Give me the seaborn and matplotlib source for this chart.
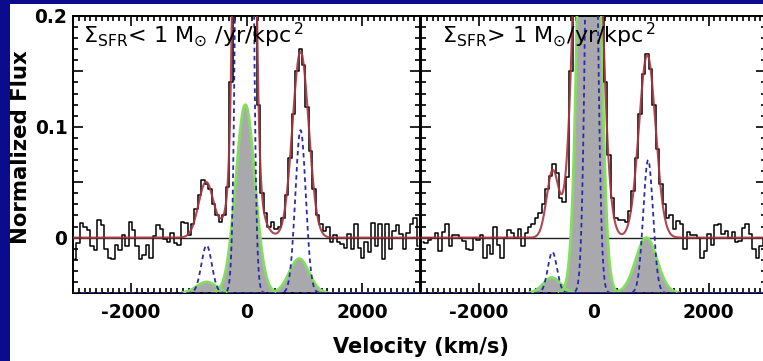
import numpy as np
import pandas as pd
import matplotlib
matplotlib.use("Agg")
import matplotlib.pyplot as plt
import seaborn as sns
from matplotlib.patches import Rectangle
from matplotlib.ticker import MultipleLocator, FixedLocator, FuncFormatter

# observed spectra, 60 km/s bins starting at -3000 km/s
vel_start, vel_step = -3000, 60

flux_low = [
    -0.019, -0.005, 0.013, 0.010, 0.007, -0.008, -0.011, 0.016, 0.011, -0.010,
    -0.018, -0.019, -0.007, -0.011, 0.002, -0.008, 0.014, 0.007, -0.008, -0.019,
    -0.016, -0.007, -0.018, 0.001, 0.011, 0.008, -0.001, -0.004, 0.004, -0.005,
    -0.007, 0.014, 0.013, 0.002, 0.012, 0.026, 0.038, 0.052, 0.048, 0.044,
    0.030, 0.020, 0.014, 0.020, 0.046, 0.140, 0.450, 1.000, 1.800, 2.200,
    1.900, 1.200, 0.400, 0.120, 0.040, 0.022, 0.010, 0.014, 0.008, 0.010,
    0.018, 0.038, 0.072, 0.112, 0.150, 0.170, 0.156, 0.118, 0.078, 0.044,
    0.020, 0.012, 0.006, 0.010, -0.004, 0.002, -0.004, -0.006, -0.009, 0.003,
    -0.010, 0.012, -0.009, -0.018, -0.004, -0.013, 0.013, -0.008, 0.012, -0.019,
    0.012, -0.010, 0.006, 0.011, 0.003, -0.010, 0.004, 0.012, 0.018, -0.008,
]

flux_high = [
    -0.004, -0.005, -0.002, 0.000, 0.004, -0.012, 0.005, 0.012, -0.008, 0.002,
    0.002, 0.000, -0.003, -0.010, -0.011, 0.000, -0.002, 0.002, -0.018, -0.007,
    -0.015, 0.010, -0.007, -0.018, 0.000, 0.007, 0.004, 0.000, 0.008, -0.008,
    0.004, 0.010, 0.012, 0.018, 0.022, 0.030, 0.044, 0.056, 0.066, 0.058,
    0.036, 0.032, 0.055, 0.150, 0.260, 0.400, 0.540, 0.640, 0.690, 0.640,
    0.520, 0.380, 0.250, 0.140, 0.075, 0.036, 0.018, 0.016, 0.016, 0.014,
    0.024, 0.042, 0.072, 0.112, 0.148, 0.166, 0.152, 0.120, 0.080, 0.048,
    0.030, 0.018, 0.020, 0.008, 0.015, 0.012, -0.010, 0.005, 0.002, 0.002,
    0.000, -0.018, -0.012, 0.003, -0.007, 0.011, 0.012, 0.003, 0.006, 0.000,
    0.005, -0.004, -0.003, 0.009, 0.012, 0.003, -0.010, -0.018, -0.008, 0.000,
]

# gaussian fits: centre (km/s), amplitude, sigma (km/s)
fit_low_centre = [-700, -35, -35, 935]
fit_low_amp = [0.050, 2.2, 0.08, 0.168]
fit_low_sigma = [130, 95, 200, 140]

narrow_low_centre = [-690, -35, 935]
narrow_low_amp = [0.043, 2.2, 0.147]
narrow_low_sigma = [90, 80, 90]

broad_low_centre = [-690, -20, 910]
broad_low_amp = [0.010, 0.17, 0.031]
broad_low_sigma = [170, 165, 170]

fit_high_centre = [-710, -100, 935]
fit_high_amp = [0.060, 0.68, 0.165]
fit_high_sigma = [105, 170, 145]

narrow_high_centre = [-715, -35, 950]
narrow_high_amp = [0.037, 0.67, 0.12]
narrow_high_sigma = [80, 80, 85]

broad_high_centre = [-725, -75, 920]
broad_high_amp = [0.014, 0.87, 0.05]
broad_high_sigma = [150, 135, 185]

comp_base = -0.05

labels = [r"$\Sigma_{\rm SFR}$< 1 M$_{\odot}$ /yr/kpc$^{\,2}$",
          r"$\Sigma_{\rm SFR}$> 1 M$_{\odot}$/yr/kpc$^{\,2}$"]

sns.set_style("ticks")
plt.rcParams["font.family"] = ["DejaVu Sans"]
plt.rcParams["axes.linewidth"] = 1.4
for key in ["text.color", "axes.labelcolor", "xtick.color", "ytick.color",
            "axes.edgecolor"]:
    plt.rcParams[key] = "black"

BLUE_BG = "#0b0b8e"
RED = "#a8343f"
DASH = "#2b2ba6"
GREEN = "#86dc62"
GRAY = "#a9a9ad"


def gauss_sum(v, centres, amps, sigmas):
    out = np.zeros_like(v)
    for c, a, s in zip(centres, amps, sigmas):
        out += a * np.exp(-0.5 * ((v - c) / s) ** 2)
    return out


def draw_panel(ax, flux, fit, narrow, broad, label, label_x, show_ylabels):
    v = np.linspace(-3000, 3000, 1201)
    bins = vel_start + vel_step * (np.arange(len(flux)) + 0.5)
    df = pd.DataFrame({"vel": bins, "flux": flux})

    ax.axhline(0, color="#222222", lw=1.0, zorder=1)

    for c, a, s in zip(*broad):
        comp = gauss_sum(v, [c], [a], [s])
        g = comp_base + comp
        ax.fill_between(v, comp_base, g, color=GRAY, lw=0, zorder=2)
        # outline only where the component rises off the baseline
        g_line = np.where(comp > 4e-4, g, np.nan)
        sns.lineplot(x=v, y=g_line, color=GREEN, lw=2.0, ax=ax, zorder=3,
                     estimator=None, sort=False)
    for c, a, s in zip(*narrow):
        g = comp_base + gauss_sum(v, [c], [a], [s])
        sns.lineplot(x=v, y=g, color=DASH, lw=1.3, ax=ax, zorder=4,
                     estimator=None, sort=False, dashes=False,
                     linestyle=(0, (2.5, 2)))

    sns.lineplot(data=df, x="vel", y="flux", color="black", lw=1.1,
                 drawstyle="steps-mid", estimator=None, ax=ax, zorder=5)
    sns.lineplot(x=v, y=gauss_sum(v, *fit), color=RED, lw=1.5, ax=ax,
                 zorder=6, estimator=None, sort=False, alpha=0.9)

    ax.set_xlim(-3000, 3000)
    ax.set_ylim(-0.05, 0.2)
    ax.set_xlabel("")
    ax.set_ylabel("")
    ax.xaxis.set_major_locator(FixedLocator([-2000, 0, 2000]))
    ax.xaxis.set_minor_locator(MultipleLocator(100))
    ax.yaxis.set_major_locator(MultipleLocator(0.05))
    ax.yaxis.set_minor_locator(MultipleLocator(0.01))
    names = {0: "0", 10: "0.1", 20: "0.2"}
    ax.yaxis.set_major_formatter(
        FuncFormatter(lambda val, pos: names.get(int(round(val * 100)), "")))
    ax.xaxis.set_major_formatter(FuncFormatter(lambda val, pos: f"{int(val)}"))
    ax.tick_params(which="both", direction="in", top=True, right=True,
                   width=1.2, labelsize=13.4, colors="black")
    ax.tick_params(which="major", length=7, pad=7)
    ax.tick_params(which="minor", length=3.5)
    ax.tick_params(axis="y", which="major", pad=4)
    ax.tick_params(labelleft=show_ylabels)
    for t in ax.get_xticklabels() + ax.get_yticklabels():
        t.set_fontweight("bold")
    ax.text(label_x, 0.906, label, transform=ax.transAxes, fontsize=16,
            va="baseline", ha="left", zorder=7, color="black")


fig = plt.figure(figsize=(7.63, 3.61), dpi=100)
fig.patch.set_facecolor(BLUE_BG)
fig.add_artist(Rectangle((10 / 763, 0), 753 / 763, 357 / 361,
                         transform=fig.transFigure, facecolor="white",
                         edgecolor="none", zorder=-1))

ax1 = fig.add_axes([73 / 763, 68 / 361, 347 / 763, 277 / 361])
ax2 = fig.add_axes([421 / 763, 68 / 361, 345 / 763, 277 / 361])

draw_panel(ax1, flux_low,
           (fit_low_centre, fit_low_amp, fit_low_sigma),
           (narrow_low_centre, narrow_low_amp, narrow_low_sigma),
           (broad_low_centre, broad_low_amp, broad_low_sigma),
           labels[0], 0.029, True)
draw_panel(ax2, flux_high,
           (fit_high_centre, fit_high_amp, fit_high_sigma),
           (narrow_high_centre, narrow_high_amp, narrow_high_sigma),
           (broad_high_centre, broad_high_amp, broad_high_sigma),
           labels[1], 0.06, False)

fig.text(21 / 763, 1 - 147 / 361, "Normalized Flux", rotation=90,
         ha="center", va="center", fontsize=15.3, fontweight="bold",
         color="black")
fig.text(421 / 763, 1 - 347 / 361, "Velocity (km/s)", ha="center",
         va="center", fontsize=15, fontweight="bold", color="black")

fig.savefig("out.png", dpi=100, facecolor=fig.get_facecolor())
